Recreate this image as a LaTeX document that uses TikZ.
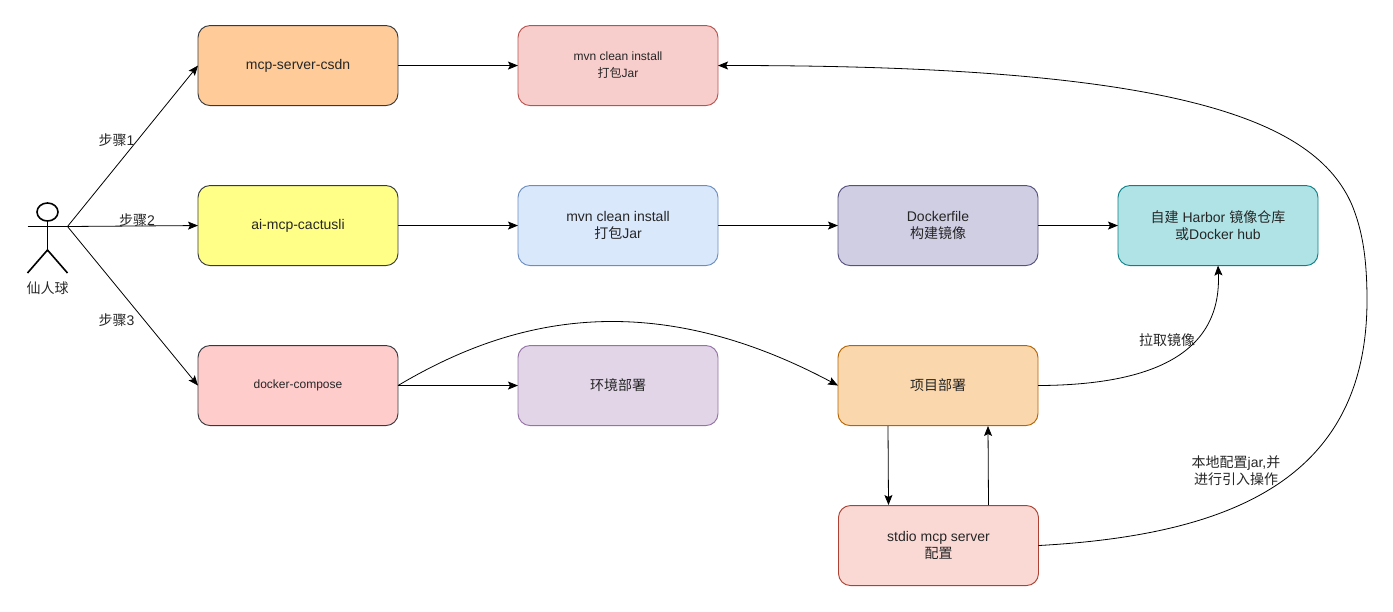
\documentclass[tikz,border=0pt]{standalone}
\usepackage{fontspec}
\setmainfont{Liberation Sans}
\newfontfamily\cjk{Noto Sans CJK SC}
\usepackage{xcolor}
\usetikzlibrary{arrows.meta,positioning}
\definecolor{txtgray}{HTML}{262626}
\tikzset{%
      flowbox/.style = { draw, line width=0.7pt, rounded corners=9pt, minimum width=150pt, minimum height=60pt, inner sep=0pt, outer sep=0pt, align=center, text=txtgray, yshift=-0.4pt, font=\fontsize{10.5}{12.75}\selectfont },
     smallbox/.style = { flowbox, font=\fontsize{9}{12.75}\selectfont },
     edgetext/.style = { text=txtgray, align=center, inner sep=0pt, font=\fontsize{10.5}{12.75}\selectfont },
         flow/.style = { -{Stealth[length=7.5pt,width=6pt,inset=1.5pt]}, line width=0.6pt },
        stick/.style = { line width=1.2pt }
}
\begin{document}
\begin{tikzpicture}[x=0.75pt,y=-0.75pt,line join=round]
\useasboundingbox (0,0) rectangle (1393,611);
% first row
\node [flowbox,fill={rgb,255:red,255;green,204;blue,153},draw={rgb,255:red,54;green,57;blue,61}] (csdn) at (298,65) {mcp-server-csdn};
\node [smallbox,fill={rgb,255:red,248;green,206;blue,204},draw={rgb,255:red,184;green,84;blue,80}] (jar) at (618,65) {mvn clean install\\{\cjk 打包}Jar};
% second row
\node [flowbox,fill={rgb,255:red,255;green,255;blue,136},draw={rgb,255:red,54;green,57;blue,61}] (cactus) at (298,225) {ai-mcp-cactusli};
\node [flowbox,fill={rgb,255:red,218;green,232;blue,252},draw={rgb,255:red,108;green,142;blue,191}] (build) at (618,225) {mvn clean install\\{\cjk 打包}Jar};
\node [flowbox,fill={rgb,255:red,208;green,206;blue,226},draw={rgb,255:red,86;green,81;blue,126}] (dockerfile) at (938,225) {Dockerfile\\{\cjk 构建镜像}};
\node [flowbox,fill={rgb,255:red,176;green,227;blue,230},draw={rgb,255:red,14;green,128;blue,136}] (harbor) at (1218,225) {{\cjk 自建} Harbor {\cjk 镜像仓库}\\{\cjk 或}Docker hub};
% third row
\node [smallbox,fill={rgb,255:red,255;green,204;blue,204},draw={rgb,255:red,54;green,57;blue,61}] (compose) at (298,385) {docker-compose};
\node [flowbox,fill={rgb,255:red,225;green,213;blue,231},draw={rgb,255:red,150;green,115;blue,166}] (env) at (618,385) {\cjk 环境部署};
\node [flowbox,fill={rgb,255:red,250;green,215;blue,172},draw={rgb,255:red,180;green,101;blue,4}] (deploy) at (938,385) {\cjk 项目部署};
\node [flowbox,fill={rgb,255:red,250;green,217;blue,213},draw={rgb,255:red,174;green,65;blue,50}] (stdio) at (938.5,545) {stdio mcp server\\{\cjk 配置}};
% actor
\coordinate (hand) at (67.5,226.5);
\coordinate (handl) at (27.5,226.5);
\coordinate (hip) at (47.5,250);
\coordinate (neck) at (47.5,221);
\draw[stick] (47.5,212) ellipse (10.5 and 9);
\draw[stick] (handl) -- (hand);
\draw[stick] (neck) -- (hip);
\draw[stick] (27.5,273) -- (hip) -- (67.5,273);
\node [edgetext] (user) at (47.5,288.5) {\cjk 仙人球};
% edges
\draw[flow] (hand) -- (csdn.west);
\draw[flow] (hand) -- (cactus.west);
\draw[flow] (hand) -- (compose.west);
\draw[flow] (csdn) -- (jar);
\draw[flow] (cactus) -- (build);
\draw[flow] (build) -- (dockerfile);
\draw[flow] (dockerfile) -- (harbor);
\draw[flow] (compose) -- (env);
\draw[flow] (compose.east) .. controls (500,325) and (640,280) .. (deploy.west);
\draw[flow] (deploy.east) .. controls (1150,385) and (1222,355) .. (harbor.south);
\coordinate (deployin) at (988,426);
\coordinate (deployout) at (888,426);
\draw[flow] (deployout) -- (888.5,505);
\draw[flow] (988.5,505) -- (deployin);
\draw[flow] (stdio.east) .. controls (1230,535) and (1367,480) .. (1367,300) .. controls (1367,250) and (1360,225) .. (1352,205) .. controls (1315,120) and (1180,65) .. (jar.east);
% labels
\node [edgetext] (step1) at (116.5,140.5) {{\cjk 步骤}1};
\node [edgetext] (step2) at (137,220) {{\cjk 步骤}2};
\node [edgetext] (step3) at (116.5,320) {{\cjk 步骤}3};
\node [edgetext] (pull) at (1167,340) {\cjk 拉取镜像};
\node [edgetext] (local) at (1236,470.5) {{\cjk 本地配置}jar,{\cjk 并}\\{\cjk 进行引入操作}};
\end{tikzpicture}
\end{document}
